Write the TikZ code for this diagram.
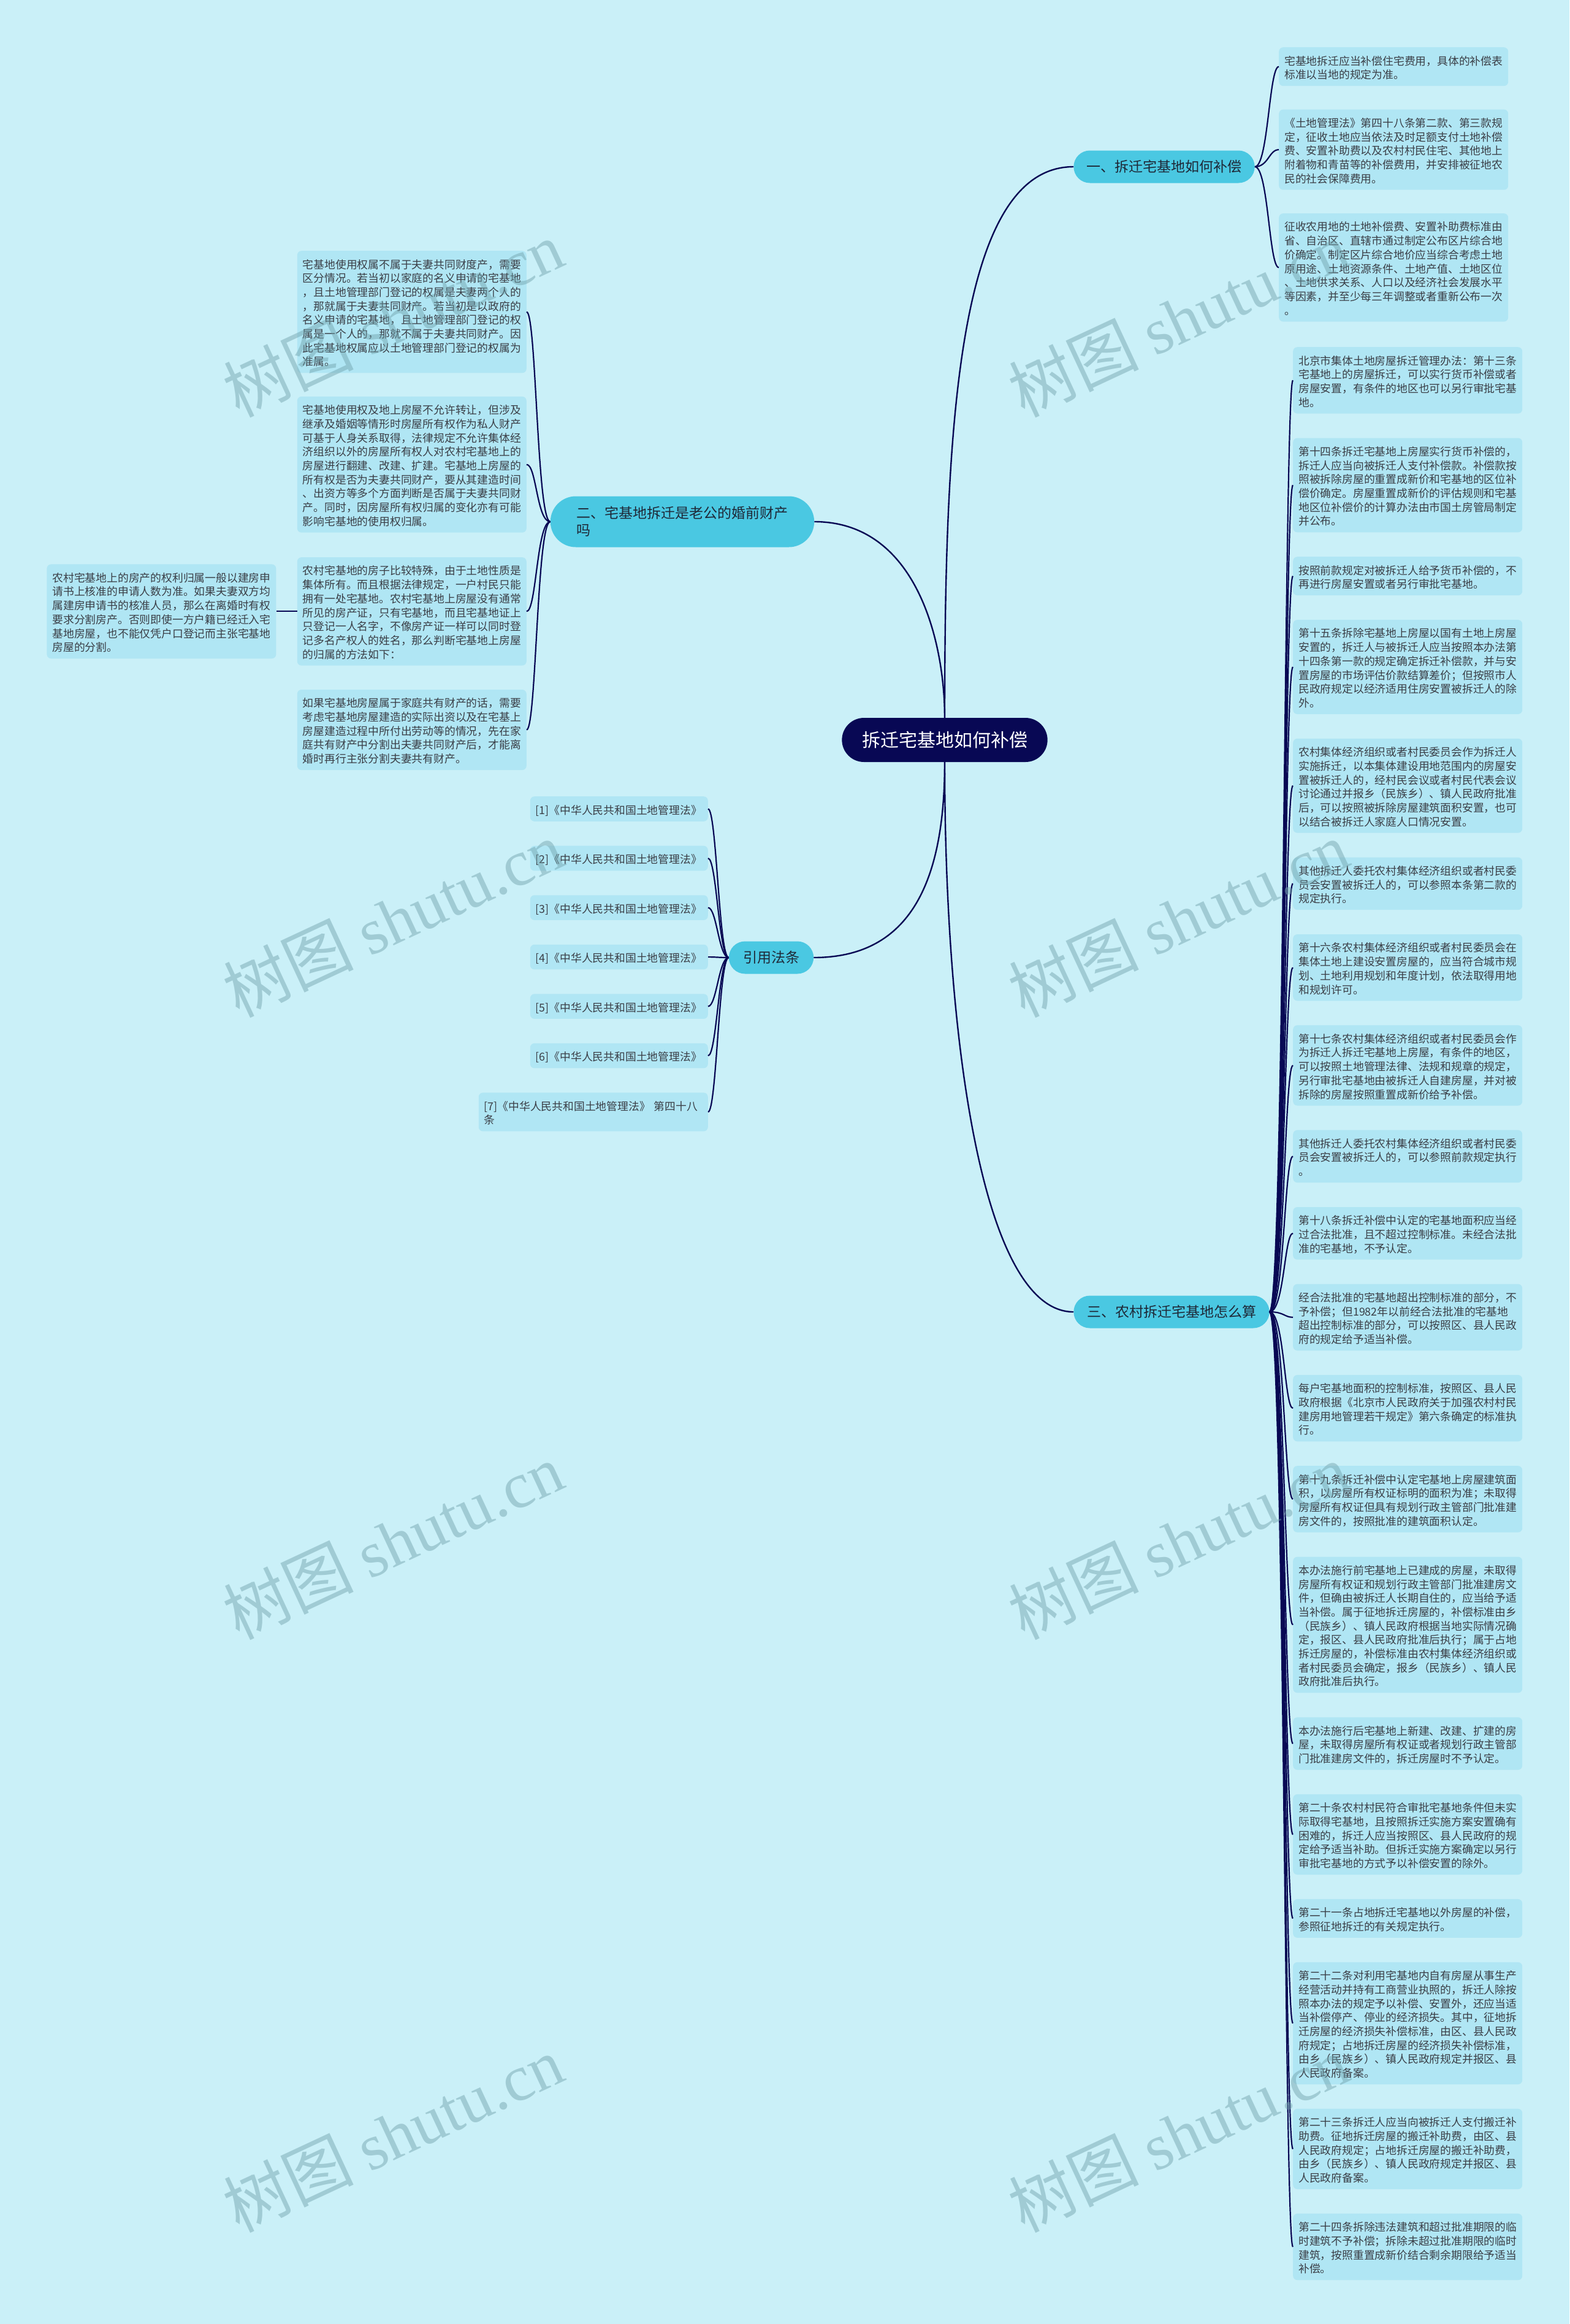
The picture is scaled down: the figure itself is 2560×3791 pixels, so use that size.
\documentclass[tikz,border=0pt]{standalone}
\usepackage{fontspec}
\setmainfont{Noto Sans CJK SC}
\newfontfamily\wmlatin{Liberation Serif}
\usetikzlibrary{positioning, shapes.misc}

\definecolor{bgcol}{RGB}{202,240,248}
\definecolor{leafcol}{RGB}{176,230,244}
\definecolor{branchcol}{RGB}{74,200,226}
\definecolor{navycol}{RGB}{8,8,84}
\definecolor{leaftxt}{RGB}{58,62,70}
\definecolor{branchtxt}{RGB}{30,40,55}
\definecolor{wmcol}{RGB}{110,160,170}

\newcommand\leafsize{\fontsize{17.8}{22.7}\selectfont}
\newcommand\topstrut{\rule{0pt}{20pt}}
\newcommand\botstrut{\rule[-2.7pt]{0pt}{2.7pt}}

\begin{document}
\begin{tikzpicture}[x=1pt, y=-1pt,
        node distance=39.5pt,
        leaf/.style={fill=leafcol, rounded corners=7pt, text=leaftxt, font=\leafsize,
                     text width=356pt, align=left, inner xsep=9pt, inner ysep=8.8pt,
                     execute at begin node=\topstrut, execute at end node=\botstrut},
        branch/.style={rounded rectangle, fill=branchcol, text=branchtxt,
                       font=\fontsize{23}{28}\selectfont, minimum height=53pt},
        rootnode/.style={rounded rectangle, fill=navycol, text=white,
                         font=\fontsize{30}{36}\selectfont, minimum width=342pt, minimum height=72pt},
        link/.style={draw=navycol, line width=2.4pt},
        twig/.style={draw=navycol, line width=2.2pt},
        wmark/.style={rotate=25, text=wmcol, opacity=0.45, font=\fontsize{106}{120}\selectfont}
    ]
    \useasboundingbox (0,0) rectangle (2560,3791);
    \fill[bgcol] (0,0) rectangle (2560,3791);

    % main topic and branches
    \node[rootnode] (root) at (1541,1207) {拆迁宅基地如何补偿};
    \node[branch, minimum width=302pt] (b1) at (1899,272) {一、拆迁宅基地如何补偿};
    \node[branch, minimum width=437pt, minimum height=83pt, align=left] (b2) at (1113,851) {二、宅基地拆迁是老公的婚前财产\\吗};
    \node[branch, minimum width=145pt] (cite) at (1258,1562) {引用法条};
    \node[branch, minimum width=326pt] (b3) at (1911,2140) {三、农村拆迁宅基地怎么算};

    \draw[link] (root.north) .. controls +(0,-470) and +(-190,0) .. (b1.west);
    \draw[link] (b2.east) .. controls +(168,0) and +(0,-121) .. (root.north);
    \draw[link] (root.south) .. controls +(0,207) and +(150,0) .. (cite.east);
    \draw[link] (root.south) .. controls +(0,457) and +(-148,0) .. (b3.west);

    % branch 1
    \node[leaf, anchor=north west] (s1) at (2086,77) {宅基地拆迁应当补偿住宅费用，具体的补偿表\\标准以当地的规定为准。};
    \node[leaf, below=38pt of s1] (s2) {《土地管理法》第四十八条第二款、第三款规\\定，征收土地应当依法及时足额支付土地补偿\\费、安置补助费以及农村村民住宅、其他地上\\附着物和青苗等的补偿费用，并安排被征地农\\民的社会保障费用。};
    \node[leaf, below=38pt of s2] (s3) {征收农用地的土地补偿费、安置补助费标准由\\省、自治区、直辖市通过制定公布区片综合地\\价确定。制定区片综合地价应当综合考虑土地\\原用途、土地资源条件、土地产值、土地区位\\、土地供求关系、人口以及经济社会发展水平\\等因素，并至少每三年调整或者重新公布一次\\。};
    \foreach \k in {1,2,3}
        \draw[twig] (b1.east) .. controls +(22,0) and +(-16,0) .. (s\k.west);

    % branch 2
    \node[leaf, anchor=north east] (m1) at (859,409) {宅基地使用权属不属于夫妻共同财度产，需要\\区分情况。若当初以家庭的名义申请的宅基地\\，且土地管理部门登记的权属是夫妻两个人的\\，那就属于夫妻共同财产。若当初是以政府的\\名义申请的宅基地，且土地管理部门登记的权\\属是一个人的，那就不属于夫妻共同财产。因\\此宅基地权属应以土地管理部门登记的权属为\\准属。};
    \node[leaf, below=38pt of m1] (m2) {宅基地使用权及地上房屋不允许转让，但涉及\\继承及婚姻等情形时房屋所有权作为私人财产\\可基于人身关系取得，法律规定不允许集体经\\济组织以外的房屋所有权人对农村宅基地上的\\房屋进行翻建、改建、扩建。宅基地上房屋的\\所有权是否为夫妻共同财产，要从其建造时间\\、出资方等多个方面判断是否属于夫妻共同财\\产。同时，因房屋所有权归属的变化亦有可能\\影响宅基地的使用权归属。};
    \node[leaf, below=40pt of m2] (m3) {农村宅基地的房子比较特殊，由于土地性质是\\集体所有。而且根据法律规定，一户村民只能\\拥有一处宅基地。农村宅基地上房屋没有通常\\所见的房产证，只有宅基地，而且宅基地证上\\只登记一人名字，不像房产证一样可以同时登\\记多名产权人的姓名，那么判断宅基地上房屋\\的归属的方法如下：};
    \node[leaf, below=39pt of m3] (m4) {如果宅基地房屋属于家庭共有财产的话，需要\\考虑宅基地房屋建造的实际出资以及在宅基上\\房屋建造过程中所付出劳动等的情况，先在家\\庭共有财产中分割出夫妻共同财产后，才能离\\婚时再行主张分割夫妻共有财产。};
    \node[leaf, left=34pt of m3] (m3a) {农村宅基地上的房产的权利归属一般以建房申\\请书上核准的申请人数为准。如果夫妻双方均\\属建房申请书的核准人员，那么在离婚时有权\\要求分割房产。否则即使一方户籍已经迁入宅\\基地房屋，也不能仅凭户口登记而主张宅基地\\房屋的分割。};
    \foreach \k in {1,...,4}
        \draw[twig] (b2.west) .. controls +(-22,0) and +(16,0) .. (m\k.east);
    \draw[twig] (m3.west) -- (m3a.east);

    % cited laws
    \node[leaf, text width=272pt, anchor=north east] (r1) at (1155,1299) {[1]《中华人民共和国土地管理法》};
    \node[leaf, text width=272pt, below=of r1] (r2) {[2]《中华人民共和国土地管理法》};
    \node[leaf, text width=272pt, below=of r2] (r3) {[3]《中华人民共和国土地管理法》};
    \node[leaf, text width=272pt, below=of r3] (r4) {[4]《中华人民共和国土地管理法》};
    \node[leaf, text width=272pt, below=of r4] (r5) {[5]《中华人民共和国土地管理法》};
    \node[leaf, text width=272pt, below=of r5] (r6) {[6]《中华人民共和国土地管理法》};
    \node[leaf, below=of r6.south east, anchor=north east] (r7) {[7]《中华人民共和国土地管理法》 第四十八\\条};
    \foreach \k in {1,...,7}
        \draw[twig] (cite.west) .. controls +(-16,0) and +(14,0) .. (r\k.east);

    % branch 3
    \node[leaf, anchor=north west] (c1) at (2109,566) {北京市集体土地房屋拆迁管理办法：第十三条\\宅基地上的房屋拆迁，可以实行货币补偿或者\\房屋安置，有条件的地区也可以另行审批宅基\\地。};
    \node[leaf, below=of c1] (c2) {第十四条拆迁宅基地上房屋实行货币补偿的，\\拆迁人应当向被拆迁人支付补偿款。补偿款按\\照被拆除房屋的重置成新价和宅基地的区位补\\偿价确定。房屋重置成新价的评估规则和宅基\\地区位补偿价的计算办法由市国土房管局制定\\并公布。};
    \node[leaf, below=of c2] (c3) {按照前款规定对被拆迁人给予货币补偿的，不\\再进行房屋安置或者另行审批宅基地。};
    \node[leaf, below=of c3] (c4) {第十五条拆除宅基地上房屋以国有土地上房屋\\安置的，拆迁人与被拆迁人应当按照本办法第\\十四条第一款的规定确定拆迁补偿款，并与安\\置房屋的市场评估价款结算差价；但按照市人\\民政府规定以经济适用住房安置被拆迁人的除\\外。};
    \node[leaf, below=of c4] (c5) {农村集体经济组织或者村民委员会作为拆迁人\\实施拆迁，以本集体建设用地范围内的房屋安\\置被拆迁人的，经村民会议或者村民代表会议\\讨论通过并报乡（民族乡）、镇人民政府批准\\后，可以按照被拆除房屋建筑面积安置，也可\\以结合被拆迁人家庭人口情况安置。};
    \node[leaf, below=of c5] (c6) {其他拆迁人委托农村集体经济组织或者村民委\\员会安置被拆迁人的，可以参照本条第二款的\\规定执行。};
    \node[leaf, below=of c6] (c7) {第十六条农村集体经济组织或者村民委员会在\\集体土地上建设安置房屋的，应当符合城市规\\划、土地利用规划和年度计划，依法取得用地\\和规划许可。};
    \node[leaf, below=of c7] (c8) {第十七条农村集体经济组织或者村民委员会作\\为拆迁人拆迁宅基地上房屋，有条件的地区，\\可以按照土地管理法律、法规和规章的规定，\\另行审批宅基地由被拆迁人自建房屋，并对被\\拆除的房屋按照重置成新价给予补偿。};
    \node[leaf, below=of c8] (c9) {其他拆迁人委托农村集体经济组织或者村民委\\员会安置被拆迁人的，可以参照前款规定执行\\。};
    \node[leaf, below=of c9] (c10) {第十八条拆迁补偿中认定的宅基地面积应当经\\过合法批准，且不超过控制标准。未经合法批\\准的宅基地，不予认定。};
    \node[leaf, below=of c10] (c11) {经合法批准的宅基地超出控制标准的部分，不\\予补偿；但1982年以前经合法批准的宅基地\\超出控制标准的部分，可以按照区、县人民政\\府的规定给予适当补偿。};
    \node[leaf, below=of c11] (c12) {每户宅基地面积的控制标准，按照区、县人民\\政府根据《北京市人民政府关于加强农村村民\\建房用地管理若干规定》第六条确定的标准执\\行。};
    \node[leaf, below=of c12] (c13) {第十九条拆迁补偿中认定宅基地上房屋建筑面\\积，以房屋所有权证标明的面积为准；未取得\\房屋所有权证但具有规划行政主管部门批准建\\房文件的，按照批准的建筑面积认定。};
    \node[leaf, below=of c13] (c14) {本办法施行前宅基地上已建成的房屋，未取得\\房屋所有权证和规划行政主管部门批准建房文\\件，但确由被拆迁人长期自住的，应当给予适\\当补偿。属于征地拆迁房屋的，补偿标准由乡\\（民族乡）、镇人民政府根据当地实际情况确\\定，报区、县人民政府批准后执行；属于占地\\拆迁房屋的，补偿标准由农村集体经济组织或\\者村民委员会确定，报乡（民族乡）、镇人民\\政府批准后执行。};
    \node[leaf, below=of c14] (c15) {本办法施行后宅基地上新建、改建、扩建的房\\屋，未取得房屋所有权证或者规划行政主管部\\门批准建房文件的，拆迁房屋时不予认定。};
    \node[leaf, below=of c15] (c16) {第二十条农村村民符合审批宅基地条件但未实\\际取得宅基地，且按照拆迁实施方案安置确有\\困难的，拆迁人应当按照区、县人民政府的规\\定给予适当补助。但拆迁实施方案确定以另行\\审批宅基地的方式予以补偿安置的除外。};
    \node[leaf, below=of c16] (c17) {第二十一条占地拆迁宅基地以外房屋的补偿，\\参照征地拆迁的有关规定执行。};
    \node[leaf, below=of c17] (c18) {第二十二条对利用宅基地内自有房屋从事生产\\经营活动并持有工商营业执照的，拆迁人除按\\照本办法的规定予以补偿、安置外，还应当适\\当补偿停产、停业的经济损失。其中，征地拆\\迁房屋的经济损失补偿标准，由区、县人民政\\府规定；占地拆迁房屋的经济损失补偿标准，\\由乡（民族乡）、镇人民政府规定并报区、县\\人民政府备案。};
    \node[leaf, below=of c18] (c19) {第二十三条拆迁人应当向被拆迁人支付搬迁补\\助费。征地拆迁房屋的搬迁补助费，由区、县\\人民政府规定；占地拆迁房屋的搬迁补助费，\\由乡（民族乡）、镇人民政府规定并报区、县\\人民政府备案。};
    \node[leaf, below=of c19] (c20) {第二十四条拆除违法建筑和超过批准期限的临\\时建筑不予补偿；拆除未超过批准期限的临时\\建筑，按照重置成新价结合剩余期限给予适当\\补偿。};
    \foreach \k in {1,...,20}
        \draw[twig] (b3.east) .. controls +(24,0) and +(-14,0) .. (c\k.west);

    % watermarks
    \foreach \wx in {641,1922}
        \foreach \wy in {520,1499,2514,3481}
            \node[wmark] (wm\wx-\wy) at (\wx,\wy) {树图 {\wmlatin shutu.cn}};
\end{tikzpicture}
\end{document}
